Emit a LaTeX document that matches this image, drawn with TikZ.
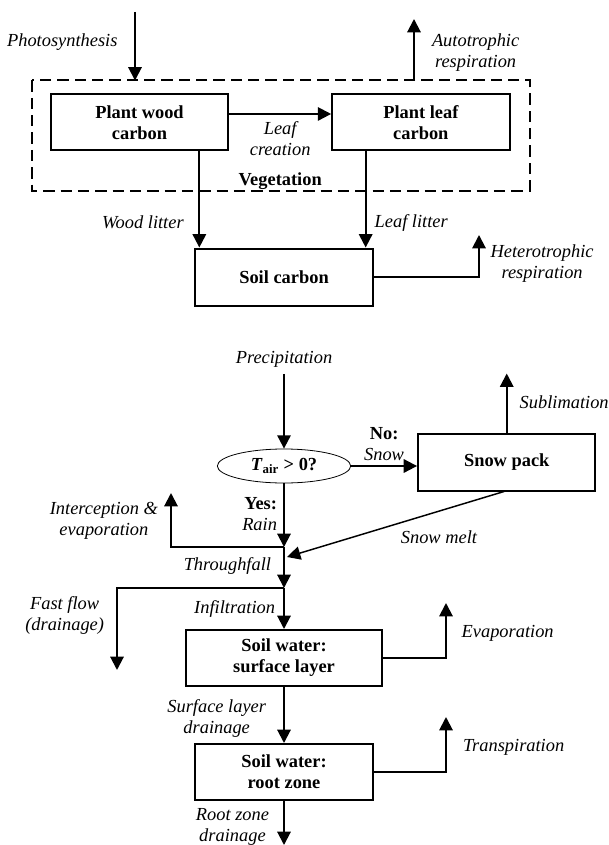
\documentclass[tikz,border=0pt]{standalone}
\usepackage{fontspec}
\setmainfont{Liberation Serif}
\usetikzlibrary{shapes.geometric, arrows.meta, positioning}
\tikzstyle{pool} = [rectangle, draw, line width=1.5pt, minimum width=133pt, minimum height=42pt, inner sep=2pt, align=center, font=\bfseries]
\tikzstyle{test} = [ellipse, draw, line width=0.6pt, minimum width=100pt, minimum height=25.5pt, inner sep=0pt, font=\bfseries]
\tikzstyle{flux} = [line width=1.5pt, -{Triangle[length=10pt, width=10pt]}]
\tikzstyle{thinflux} = [line width=1.1pt, -{Triangle[length=10pt, width=10pt]}]
\tikzstyle{flabel} = [font=\itshape, inner sep=2pt, align=center]
\tikzstyle{group} = [line width=1.5pt, dash pattern=on 8.5pt off 4.5pt]
\begin{document}
\fontsize{13.8}{15.8}\selectfont
\begin{tikzpicture}[x=0.75pt, y=-0.75pt, node distance=1cm]
  \useasboundingbox (0,0) rectangle (608,845);
  \node (wood) [pool] at (139.5,122.5) {Plant wood\\carbon};
  \node (leaf) [pool, right=76.5pt of wood] {Plant leaf\\carbon};
  \draw [flux] ([yshift=6.4pt]wood.east) -- node[flabel, below=3pt] (crea) {Leaf\\creation} ([yshift=6.4pt]leaf.west);
  \node (veg) [font=\bfseries, below=5pt of crea] {Vegetation};
  \coordinate (vegNW) at ([shift={(-13.5pt,9.75pt)}]wood.north west);
  \coordinate (vegSE) at ([shift={(14.25pt,-29.25pt)}]leaf.south east);
  \draw [group] (vegNW) rectangle (vegSE);
  \coordinate (photo) at (135,12);
  \draw [flux] (photo) -- node[flabel, pos=0.44, left=10.4pt] {Photosynthesis} (photo |- vegNW);
  \coordinate (auto) at (414,19);
  \draw [flux] (auto |- vegNW) -- node[flabel, pos=0.45, right=10.75pt] {Autotrophic\\respiration} (auto);
  \node (soil) [pool, minimum height=42.75pt] at (284,277) {Soil carbon};
  \coordinate (wl) at ([xshift=3.75pt]soil.north west);
  \coordinate (ll) at ([xshift=-6pt]soil.north east);
  \draw [flux] (wl |- wood.south) -- node[flabel, pos=0.74, left=9pt] {Wood litter} (wl);
  \draw [flux] (ll |- leaf.south) -- node[flabel, pos=0.74, right=4pt] {Leaf litter} (ll);
  \coordinate (hetero) at (479,235);
  \draw [flux] (soil.east) -| node[flabel, pos=0.66, right=6pt] {Heterotrophic\\respiration} (hetero);
  %Water balance
  \node (precip) [flabel] at (284,359) {Precipitation};
  \node (tair) [test] at (284,466) {\textit{T}\textsubscript{air} > 0?};
  \draw [flux, shorten <=3pt] (precip) -- (tair);
  \node (snow) [pool, minimum height=42.75pt, right=49.5pt of tair, yshift=3pt] {Snow pack};
  \draw [flux] (tair.east) -- node[flabel, above=1pt] {\textbf{\textup{No:}}\\Snow} (tair.east -| snow.west);
  \coordinate (subl) at ([yshift=44.25pt]snow.north);
  \draw [flux] (snow) -- node[flabel, pos=0.51, right=7pt] {Sublimation} (subl);
  \coordinate (thru) at (284,547);
  \draw [flux] (tair) -- node[flabel, pos=0.48, left=2.5pt, align=right] {\textbf{\textup{Yes:}}\\Rain} (thru);
  \coordinate (icpt) at (171,493);
  \draw [flux] (thru) -| node[flabel, pos=0.74, left=7pt] {Interception \&\\evaporation} (icpt);
  \coordinate (meltend) at (287,557);
  \draw [thinflux] ([xshift=-2pt]snow.south) -- node[flabel, pos=0.3, below=12pt] {Snow melt} (meltend);
  \coordinate (fast) at (284,588);
  \draw [flux] (thru) -- node[flabel, pos=0.46, left=7pt] {Throughfall} (fast);
  \coordinate (fastend) at (117,670);
  \draw [flux] (fast) -| node[flabel, pos=0.67, left=7pt] {Fast flow\\(drainage)} (fastend);
  \node (surf) [pool, minimum width=147pt] at (284,658) {Soil water:\\surface layer};
  \draw [flux] (fast) -- node[flabel, pos=0.5, left=4pt] {Infiltration} (surf);
  \coordinate (evap) at (446,603);
  \draw [flux] (surf.east) -| node[flabel, pos=0.72, right=9pt] {Evaporation} (evap);
  \node (root) [pool, below=42pt of surf] {Soil water:\\root zone};
  \draw [flux] (surf) -- node[flabel, pos=0.56, left=10.75pt] {Surface layer\\drainage} (root);
  \coordinate (transp) at (446,717);
  \draw [flux] (root.east) -| node[flabel, pos=0.72, right=10pt] {Transpiration} (transp);
  \coordinate (rootend) at (284,845);
  \draw [flux] (root) -- node[flabel, pos=0.58, left=8.5pt] {Root zone\\drainage} (rootend);
\end{tikzpicture}
\end{document}
